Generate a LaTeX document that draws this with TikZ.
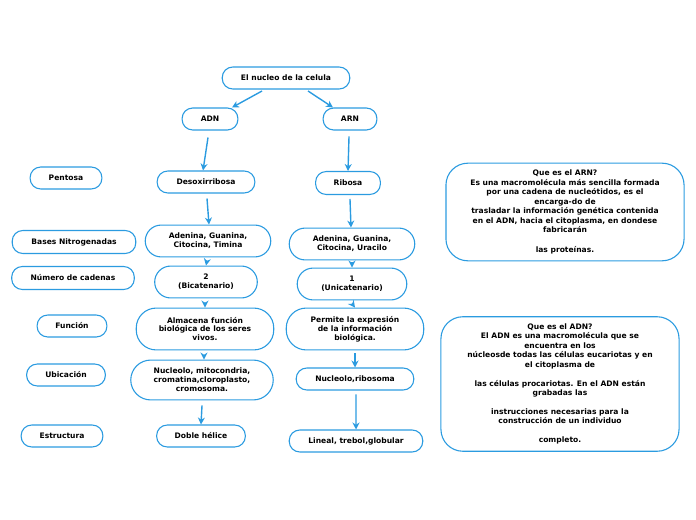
\documentclass[tikz,border=0pt]{standalone}
\usepackage{fontspec}
\setmainfont{DejaVu Sans}
\usetikzlibrary{arrows.meta}
\definecolor{celeste}{HTML}{2B9BE0}
\tikzset{ b/.style = { rectangle % box
        , draw = celeste
        , line width = 1.1pt
        , rounded corners = 10.5pt
        , align = center
        , inner sep = 1pt
        , font = \fontsize{7.6}{9}\selectfont\bfseries
        }
        , bb/.style = { b % big box
        , rounded corners = 16pt
        }
        , t/.style = { b % text box
        , rounded corners = 22pt
        , font = \fontsize{7.6}{9.5}\selectfont\bfseries
        }
        }

\begin{document}
\begin{tikzpicture}[x=1bp, y=-1bp,
        edge_style/.style={draw=celeste, line width=1.4pt, -{Stealth[length=7pt,width=7pt]}}]
        \useasboundingbox (0,0) rectangle (696,520);

        \node [b,minimum width=128,minimum height=22](nucleo) at (286,78) {El nucleo de la celula};
        \node [b,minimum width=56,minimum height=22](adn) at (210,119) {ADN};
        \node [b,minimum width=54,minimum height=22](arn) at (350,119) {ARN};

        % columna de etiquetas
        \node [b,minimum width=72,minimum height=22](pentosa) at (66,178) {Pentosa};
        \node [b,minimum width=124,minimum height=23](bases) at (74,242) {Bases Nitrogenadas};
        \node [b,minimum width=123,minimum height=23](numero) at (73,278) {Número de cadenas};
        \node [b,minimum width=70,minimum height=22](funcion) at (72,326) {Función};
        \node [b,minimum width=79,minimum height=22](ubicacion) at (66,375) {Ubicación};
        \node [b,minimum width=82,minimum height=22](estructura) at (62,436) {Estructura};

        % columna ADN
        \node [b,minimum width=98,minimum height=22](d1) at (206,182) {Desoxirribosa};
        \node [bb,minimum width=126,minimum height=32](d2) at (208,241) {Adenina, Guanina,\\Citocina, Timina};
        \node [bb,minimum width=103,minimum height=32](d3) at (206,282) {2\\(Bicatenario)};
        \node [bb,minimum width=138,minimum height=42,rounded corners=20pt](d4) at (205,329) {Almacena función\\biológica de los seres\\vivos.};
        \node [bb,minimum width=143,minimum height=40,rounded corners=20pt](d5) at (202,380) {Nucleolo, mitocondria,\\cromatina,cloroplasto,\\cromosoma.};
        \node [b,minimum width=89,minimum height=22](d6) at (201,436) {Doble hélice};

        % columna ARN
        \node [b,minimum width=65,minimum height=23](r1) at (348,183) {Ribosa};
        \node [bb,minimum width=126,minimum height=32](r2) at (352,244) {Adenina, Guanina,\\Citocina, Uracilo};
        \node [bb,minimum width=110,minimum height=32](r3) at (352,284) {1\\(Unicatenario)};
        \node [bb,minimum width=138,minimum height=42,rounded corners=20pt](r4) at (355,329) {Permite la expresión\\de la información\\biológica.};
        \node [b,minimum width=118,minimum height=22](r5) at (355,379) {Nucleolo,ribosoma};
        \node [b,minimum width=134,minimum height=22](r6) at (356,441) {Lineal, trebol,globular};

        % recuadros de texto
        \node [t,minimum width=239,minimum height=98](qarn) at (565,212) {Que es el ARN?\\Es una macromolécula más sencilla formada\\por una cadena de nucleótidos, es el\\encarga-do de\\trasladar la información genética contenida\\en el ADN, hacia el citoplasma, en dondese\\fabricarán\\[10.5pt]las proteínas.};
        \node [t,minimum width=239,minimum height=135](qadn) at (560,384) {Que es el ADN?\\El ADN es una macromolécula que se\\encuentra en los\\núcleosde todas las células eucariotas y en\\el citoplasma de\\[9.5pt]las células procariotas. En el ADN están\\grabadas las\\[9.5pt]instrucciones necesarias para la\\construcción de un individuo\\[9.5pt]completo.};

        \draw [edge_style] (262,91) -- (adn.north -| 232,0);
        \draw [edge_style] (308,91) -- (arn.north -| 333,0);
        \draw [edge_style] ([xshift=-2pt,yshift=-7pt]adn.south) -- ([xshift=-3pt]d1.north);
        \draw [edge_style] ([xshift=-1pt,yshift=-6pt]arn.south) -- (r1.north);
        \draw [edge_style] ([xshift=1pt,yshift=-5pt]d1.south) -- ([xshift=1pt]d2.north);
        \draw [edge_style] ([xshift=2pt,yshift=-4pt]r1.south) -- ([xshift=-1pt]r2.north);
        \draw [edge_style] ([xshift=-1pt,yshift=-3pt]d2.south) -- (d3.north);
        \draw [edge_style] ([yshift=-2pt]r2.south) -- (r3.north);
        \draw [edge_style] ([xshift=-1pt,yshift=-4pt]d3.south) -- (d4.north);
        \draw [edge_style] ([yshift=-3pt]r3.south) -- (r4.north);
        \draw [edge_style] ([xshift=-1pt,yshift=-5pt]d4.south) -- ([xshift=2pt]d5.north);
        \draw [edge_style] ([yshift=-3pt]r4.south) -- (r5.north);
        \draw [edge_style] ([yshift=-5pt]d5.south) -- (d6.north);
        \draw [edge_style] ([xshift=1pt,yshift=-4pt]r5.south) -- (r6.north);
\end{tikzpicture}
\end{document}
